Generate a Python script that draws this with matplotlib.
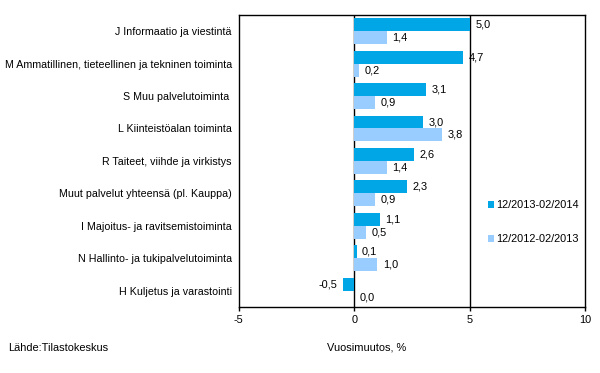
import numpy as np
import matplotlib
matplotlib.use("Agg")
from matplotlib import pyplot as plt

plt.rcParams['font.family'] = ['Liberation Sans', 'DejaVu Sans']

categories = ['J Informaatio ja viestintä',
              'M Ammatillinen, tieteellinen ja tekninen toiminta',
              'S Muu palvelutoiminta ',
              'L Kiinteistöalan toiminta',
              'R Taiteet, viihde ja virkistys',
              'Muut palvelut yhteensä (pl. Kauppa)',
              'I Majoitus- ja ravitsemistoiminta',
              'N Hallinto- ja tukipalvelutoiminta',
              'H Kuljetus ja varastointi']
recent = [5.0, 4.7, 3.1, 3.0, 2.6, 2.3, 1.1, 0.1, -0.5]
previous = [1.4, 0.2, 0.9, 3.8, 1.4, 0.9, 0.5, 1.0, 0.0]
series_names = ['12/2013-02/2014', '12/2012-02/2013']

dark = '#00A6E6'
light = '#99CCFF'
fs = 7.9

fig = plt.figure(figsize=(6, 3.73), dpi=100)
ax = fig.add_axes([0.398, 0.177, 0.577, 0.783])

y = np.arange(len(categories))
h = 0.4
b1 = ax.barh(y - h / 2, recent, height=h, color=dark, label=series_names[0], zorder=2)
b2 = ax.barh(y + h / 2, previous, height=h, color=light, label=series_names[1], zorder=2)

def fmt(v):
    return f'{v:.1f}'.replace('.', ',')

for bars, vals in [(b1, recent), (b2, previous)]:
    for bar, v in zip(bars, vals):
        yc = bar.get_y() + bar.get_height() / 2
        if v < 0:
            ax.annotate(fmt(v), (v, yc), xytext=(-4, 0), textcoords='offset points',
                        ha='right', va='center', fontsize=fs)
        else:
            ax.annotate(fmt(v), (v, yc), xytext=(4, 0), textcoords='offset points',
                        ha='left', va='center', fontsize=fs)

ax.set_xlim(-5, 10)
ax.set_ylim(len(categories) - 0.5, -0.5)
ax.set_xticks([-5, 0, 5, 10])
ax.set_xticklabels(['-5', '0', '5', '10'], fontsize=fs)
ax.set_yticks(y)
ax.set_yticklabels(categories, fontsize=7.7)
ax.tick_params(axis='y', length=0, pad=5)
ax.tick_params(axis='x', length=3, width=1, pad=3)
for x in [0, 5]:
    ax.axvline(x, color='black', lw=1, zorder=1)
for s in ax.spines.values():
    s.set_linewidth(1)

leg = ax.legend(loc='center left', bbox_to_anchor=(0.69, 0.29), frameon=False,
                fontsize=fs, handlelength=0.6, handleheight=0.6, handletextpad=0.2,
                labelspacing=2.2)

fig.text(327 / 600, 1 - 348 / 373, 'Vuosimuutos, %', fontsize=fs, ha='left', va='center')
fig.text(8 / 600, 1 - 348 / 373, 'Lähde:Tilastokeskus', fontsize=fs, ha='left', va='center')

fig.savefig('out.png', dpi=100)
